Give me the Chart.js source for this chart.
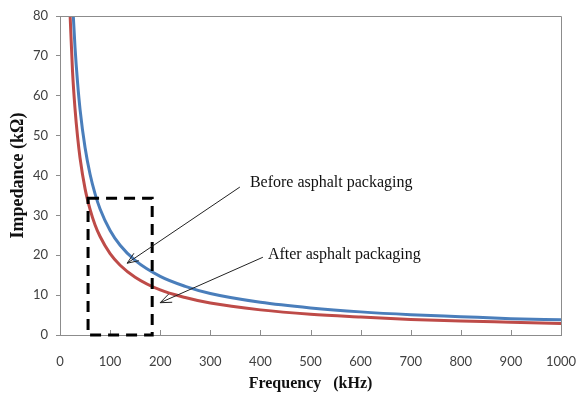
<!DOCTYPE html>
<html>
<head>
<meta charset="utf-8">
<script src="https://cdn.jsdelivr.net/npm/chart.js@4/dist/chart.umd.min.js"></script>
<style>
  html, body { margin: 0; padding: 0; background: #fff; }
  #wrap { width: 579px; height: 394px; }
</style>
</head>
<body>
<div id="wrap"><canvas id="impChart"></canvas></div>
<script>
// values (frequency in kHz, impedance in kOhm)
const freqBefore = [26, 30, 35, 40, 50, 60, 70, 80, 100, 120, 150, 200, 250, 300, 400, 500, 600, 700, 800, 900, 1000];
const impBefore  = [81.3, 72.1, 63.4, 56.6, 47.0, 40.3, 35.4, 31.6, 26.2, 22.5, 18.7, 14.7, 12.2, 10.4, 8.2, 6.8, 5.8, 5.1, 4.6, 4.1, 3.8];
const freqAfter  = [20, 25, 30, 35, 40, 50, 60, 70, 80, 100, 120, 150, 200, 250, 300, 400, 500, 600, 700, 800, 900, 1000];
const impAfter   = [80.7, 66.1, 56.7, 49.8, 44.4, 36.7, 31.5, 27.6, 24.7, 20.4, 17.5, 14.5, 11.3, 9.4, 8.0, 6.3, 5.2, 4.5, 3.9, 3.5, 3.2, 2.9];
const seriesNames = ['Before asphalt packaging', 'After asphalt packaging'];
const xTicks = [0, 100, 200, 300, 400, 500, 600, 700, 800, 900, 1000];

function toPoints(xs, ys) {
    return xs.map((x, i) => ({ x: x, y: ys[i] }));
}

// dashed box, call-out arrows, inner x ticks and plot frame
const extras = {
    id: 'extras',
    afterDatasetsDraw(chart) {
        const ctx = chart.ctx;
        const xs = chart.scales.x, ys = chart.scales.y;
        const a = chart.chartArea;
        const px = v => xs.getPixelForValue(v);
        const py = v => ys.getPixelForValue(v);
        ctx.save();

        // frame
        ctx.strokeStyle = '#8c8c8c';
        ctx.lineWidth = 1;
        ctx.beginPath();
        ctx.moveTo(a.left, a.top + 0.5);
        ctx.lineTo(a.right + 0.5, a.top + 0.5);
        ctx.lineTo(a.right + 0.5, a.bottom);
        ctx.stroke();

        // x tick marks pointing inward
        ctx.beginPath();
        xTicks.forEach(t => {
            const x = Math.round(px(t)) + 0.5;
            ctx.moveTo(x, a.bottom);
            ctx.lineTo(x, a.bottom - 5);
        });
        ctx.stroke();

        // dashed zoom box
        ctx.strokeStyle = '#000';
        ctx.lineWidth = 3;
        ctx.setLineDash([11, 7]);
        ctx.strokeRect(px(56), py(34.3), px(184) - px(56), py(0) - py(34.3));
        ctx.setLineDash([]);

        // arrows
        const arrow = (x1, y1, x2, y2) => {
            const X1 = px(x1), Y1 = py(y1), X2 = px(x2), Y2 = py(y2);
            const ang = Math.atan2(Y2 - Y1, X2 - X1);
            const h = 12, w = 0.38;
            ctx.strokeStyle = '#222';
            ctx.lineWidth = 1;
            ctx.beginPath();
            ctx.moveTo(X1, Y1);
            ctx.lineTo(X2, Y2);
            ctx.moveTo(X2 - h * Math.cos(ang - w), Y2 - h * Math.sin(ang - w));
            ctx.lineTo(X2, Y2);
            ctx.lineTo(X2 - h * Math.cos(ang + w), Y2 - h * Math.sin(ang + w));
            ctx.stroke();
        };
        arrow(359, 37.1, 134, 18.0);
        arrow(405, 19.5, 200, 8.1);

        // labels
        ctx.fillStyle = '#111';
        ctx.font = '16px "Liberation Serif", serif';
        ctx.textBaseline = 'middle';
        ctx.textAlign = 'left';
        ctx.fillText(seriesNames[0], px(379), py(38.1));
        ctx.fillText(seriesNames[1], px(415), py(20));
        ctx.restore();
    }
};

new Chart(document.getElementById('impChart'), {
    type: 'line',
    data: {
        datasets: [
            {
                label: seriesNames[0],
                data: toPoints(freqBefore, impBefore),
                borderColor: '#4a7ebb',
                borderWidth: 3,
                pointRadius: 0,
                cubicInterpolationMode: 'monotone',
            },
            {
                label: seriesNames[1],
                data: toPoints(freqAfter, impAfter),
                borderColor: '#be4b48',
                borderWidth: 3,
                pointRadius: 0,
                cubicInterpolationMode: 'monotone',
            },
        ],
    },
    options: {
        responsive: true,
        maintainAspectRatio: false,
        animation: false,
        layout: { padding: { top: 16, right: 18, left: 0, bottom: 0 } },
        plugins: {
            legend: { display: false },
            tooltip: { enabled: false },
        },
        scales: {
            x: {
                type: 'linear',
                min: 0,
                max: 1000,
                afterFit: s => { s.height = 59; s.paddingLeft = 0; s.paddingRight = 0; },
                afterBuildTicks: s => { s.ticks = xTicks.map(v => ({ value: v })); },
                grid: { display: false },
                border: { color: '#8c8c8c' },
                ticks: {
                    padding: 11,
                    maxRotation: 0,
                    autoSkip: false,
                    color: '#404040',
                    font: { family: 'Lato', size: 13 },
                    callback: v => String(v),
                },
                title: {
                    display: true,
                    text: 'Frequency   (kHz)',
                    color: '#111',
                    padding: { top: 4, bottom: 1 },
                    font: { family: '"Liberation Serif"', size: 16, weight: 'bold' },
                },
            },
            y: {
                min: 0,
                max: 80,
                afterFit: s => { s.width = 60; },
                grid: { drawOnChartArea: false, tickLength: 4, color: '#8c8c8c' },
                border: { color: '#8c8c8c' },
                ticks: {
                    stepSize: 10,
                    padding: 8,
                    color: '#404040',
                    font: { family: 'Lato', size: 13 },
                },
                title: {
                    display: true,
                    text: 'Impedance (kΩ)',
                    color: '#111',
                    padding: { top: 8, bottom: 0 },
                    font: { family: '"Liberation Serif"', size: 18, weight: 'bold' },
                },
            },
        },
    },
    plugins: [extras],
});
</script>
</body>
</html>
